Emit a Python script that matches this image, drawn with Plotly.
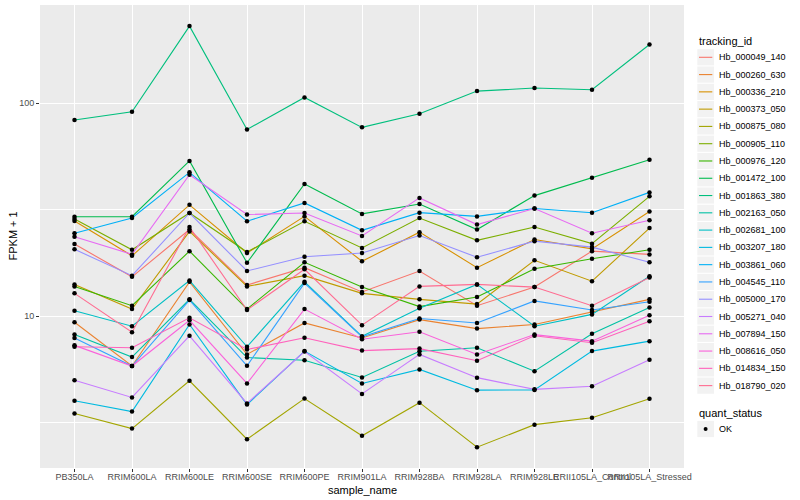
import plotly.graph_objects as go

samples = ["PB350LA", "RRIM600LA", "RRIM600LE", "RRIM600SE", "RRIM600PE", "RRIM901LA",
           "RRIM928BA", "RRIM928LA", "RRIM928LE", "RRII105LA_Control", "RRII105LA_Stressed"]

tracking_ids = ["Hb_000049_140", "Hb_000260_630", "Hb_000336_210", "Hb_000373_050", "Hb_000875_080",
                "Hb_000905_110", "Hb_000976_120", "Hb_001472_100", "Hb_001863_380", "Hb_002163_050",
                "Hb_002681_100", "Hb_003207_180", "Hb_003861_060", "Hb_004545_110", "Hb_005000_170",
                "Hb_005271_040", "Hb_007894_150", "Hb_008616_050", "Hb_014834_150", "Hb_018790_020"]

hb_000049_140 = [21.8, 15.3, 25.5, 14.0, 16.9, 13.0, 16.3, 11.2, 13.7, 20.2, 19.5]
hb_000260_630 = [9.37, 5.84, 14.5, 6.62, 9.30, 7.9, 9.64, 8.75, 9.14, 10.5, 12.0]
hb_000336_210 = [28.0, 19.2, 33.3, 19.8, 29.4, 18.1, 24.8, 16.9, 22.9, 20.7, 31.0]
hb_000373_050 = [14.1, 10.8, 25.0, 13.8, 15.5, 12.8, 12.0, 11.4, 18.3, 14.6, 25.9]
hb_000875_080 = [3.50, 2.97, 4.98, 2.65, 4.11, 2.75, 3.93, 2.43, 3.10, 3.34, 4.10]
hb_000905_110 = [28.6, 20.5, 30.5, 20.0, 27.9, 20.9, 28.9, 22.7, 26.2, 21.9, 36.5]
hb_000976_120 = [13.8, 11.2, 20.2, 10.8, 17.9, 13.7, 11.1, 12.3, 16.7, 18.6, 20.5]
hb_001472_100 = [29.3, 29.3, 53.5, 17.8, 41.7, 30.2, 33.6, 25.5, 36.8, 44.6, 54.2]
hb_001863_380 = [83.2, 91.1, 229.6, 75.2, 106.2, 76.9, 89.1, 113.8, 117.6, 115.4, 188.2]
hb_002163_050 = [8.20, 6.43, 12.0, 6.40, 6.22, 5.16, 6.85, 7.11, 5.52, 8.27, 11.0]
hb_002681_100 = [10.6, 8.98, 14.7, 7.19, 14.5, 8.05, 10.9, 14.1, 8.98, 10.2, 15.4]
hb_003207_180 = [4.01, 3.57, 9.14, 3.85, 6.86, 4.84, 5.63, 4.50, 4.51, 6.86, 7.64]
hb_003861_060 = [24.5, 28.9, 47.3, 27.9, 34.0, 25.3, 30.6, 29.4, 32.0, 30.6, 38.1]
hb_004545_110 = [7.9, 5.84, 11.9, 5.85, 14.3, 8.0, 9.75, 9.30, 11.8, 10.7, 11.7]
hb_005000_170 = [20.6, 15.5, 30.5, 16.3, 19.0, 19.8, 23.9, 18.9, 22.5, 21.1, 17.9]
hb_005271_040 = [5.01, 4.16, 8.09, 3.90, 6.83, 4.32, 6.62, 5.15, 4.54, 4.69, 6.25]
hb_007894_150 = [23.6, 19.5, 46.1, 30.0, 30.5, 23.8, 35.9, 26.9, 32.0, 24.5, 28.2]
hb_008616_050 = [7.3, 5.84, 9.57, 4.84, 10.8, 7.8, 8.45, 6.62, 8.2, 7.64, 10.1]
hb_014834_150 = [7.19, 7.11, 9.83, 6.98, 7.92, 6.9, 7.05, 6.18, 8.1, 7.51, 9.48]
hb_018790_020 = [12.8, 8.42, 26.2, 10.7, 16.6, 9.08, 13.8, 14.1, 13.7, 11.2, 15.2]

series = [hb_000049_140, hb_000260_630, hb_000336_210, hb_000373_050, hb_000875_080,
          hb_000905_110, hb_000976_120, hb_001472_100, hb_001863_380, hb_002163_050,
          hb_002681_100, hb_003207_180, hb_003861_060, hb_004545_110, hb_005000_170,
          hb_005271_040, hb_007894_150, hb_008616_050, hb_014834_150, hb_018790_020]

quant_status = ["OK"]

colors = ["#F8766D", "#EA8331", "#D89000", "#C09B00", "#A3A500", "#7CAE00", "#39B600",
          "#00BB4E", "#00BF7D", "#00C1A3", "#00BFC4", "#00BAE0", "#00B0F6", "#35A2FF",
          "#9590FF", "#C77CFF", "#E76BF3", "#FA62DB", "#FF62BC", "#FF6C91"]

FONT = "Liberation Sans, Arial, sans-serif"
W, H = 800, 500
L, R, T, B = 40, 116, 5, 32
PW, PH = W - L - R, H - T - B

def px(x):
    return (x - L) / PW

def py(y):
    return (H - B - y) / PH

fig = go.Figure()
for name, vals, col in zip(tracking_ids, series, colors):
    fig.add_trace(go.Scatter(x=samples, y=vals, mode="lines", name=name,
                             line=dict(color=col, width=1.1), showlegend=False))

all_x, all_y = [], []
for vals in series:
    all_x.extend(samples)
    all_y.extend(vals)
fig.add_trace(go.Scatter(x=all_x, y=all_y, mode="markers", name="OK",
                         marker=dict(color="black", size=4.5), showlegend=False))

shapes = []
annotations = []

# axis titles
annotations.append(dict(x=px(12), y=0.5, xref="paper", yref="paper", text="FPKM + 1",
                        textangle=-90, showarrow=False, font=dict(size=11, color="black", family=FONT),
                        xanchor="center", yanchor="middle"))
annotations.append(dict(x=0.5, y=py(489.5), xref="paper", yref="paper", text="sample_name",
                        showarrow=False, font=dict(size=11, color="black", family=FONT),
                        xanchor="center", yanchor="middle"))

# legend: tracking_id
annotations.append(dict(x=px(696.5), y=py(40.7), xref="paper", yref="paper", text="tracking_id",
                        showarrow=False, font=dict(size=11, color="black", family=FONT),
                        xanchor="left", yanchor="middle"))
step = 17.28
for i, (name, col) in enumerate(zip(tracking_ids, colors)):
    cy = 57.3 + i * step
    shapes.append(dict(type="rect", xref="paper", yref="paper",
                       x0=px(697.3), x1=px(714.0), y0=py(cy + 8.1), y1=py(cy - 8.1),
                       fillcolor="#F2F2F2", line=dict(width=0), layer="above"))
    shapes.append(dict(type="line", xref="paper", yref="paper",
                       x0=px(699.0), x1=px(712.3), y0=py(cy), y1=py(cy),
                       line=dict(color=col, width=1.1), layer="above"))
    annotations.append(dict(x=px(716.8), y=py(cy), xref="paper", yref="paper", text=name,
                            showarrow=False, font=dict(size=9, color="black", family=FONT),
                            xanchor="left", yanchor="middle"))

# legend: quant_status
annotations.append(dict(x=px(696.5), y=py(412.7), xref="paper", yref="paper", text="quant_status",
                        showarrow=False, font=dict(size=11, color="black", family=FONT),
                        xanchor="left", yanchor="middle"))
cy = 429.0
shapes.append(dict(type="rect", xref="paper", yref="paper",
                   x0=px(697.3), x1=px(714.0), y0=py(cy + 8.1), y1=py(cy - 8.1),
                   fillcolor="#F2F2F2", line=dict(width=0), layer="above"))
shapes.append(dict(type="circle", xref="paper", yref="paper",
                   x0=px(703.6), x1=px(707.6), y0=py(cy + 2.0), y1=py(cy - 2.0),
                   fillcolor="black", line=dict(width=0), layer="above"))
annotations.append(dict(x=px(716.8), y=py(cy), xref="paper", yref="paper", text=quant_status[0],
                        showarrow=False, font=dict(size=9, color="black", family=FONT),
                        xanchor="left", yanchor="middle"))

fig.update_layout(
    width=W, height=H,
    margin=dict(l=L, r=R, t=T, b=B, pad=0, autoexpand=False),
    plot_bgcolor="#EBEBEB", paper_bgcolor="white",
    font=dict(family=FONT, size=9, color="#4D4D4D"),
    showlegend=False,
    shapes=shapes, annotations=annotations,
    xaxis=dict(type="category", categoryorder="array", categoryarray=samples,
               range=[-0.6, 10.6], showgrid=True, gridcolor="white", gridwidth=1.1,
               zeroline=False, showline=False, ticks="outside", ticklen=3,
               tickangle=0, automargin=False, ticklabelstandoff=-3,
               tickcolor="#333333", tickwidth=1, tickfont=dict(size=9, color="#4D4D4D", family=FONT),
               fixedrange=True),
    yaxis=dict(type="log", range=[0.288, 2.460], tickvals=[10, 100], ticktext=["10", "100"],
               showgrid=True, gridcolor="white", gridwidth=1.1, zeroline=False, showline=False,
               ticks="outside", ticklen=3, tickcolor="#333333", tickwidth=1, automargin=False,
               tickfont=dict(size=9, color="#4D4D4D", family=FONT),
               minor=dict(tickvals=[10 ** 0.5, 10 ** 1.5, 10 ** 2.5], showgrid=True,
                          gridcolor="white", gridwidth=0.55, ticks=""),
               fixedrange=True),
)

fig.write_html("out.html", config={"displayModeBar": False},
               post_script="document.body.style.margin='0';document.body.style.overflow='hidden';")
